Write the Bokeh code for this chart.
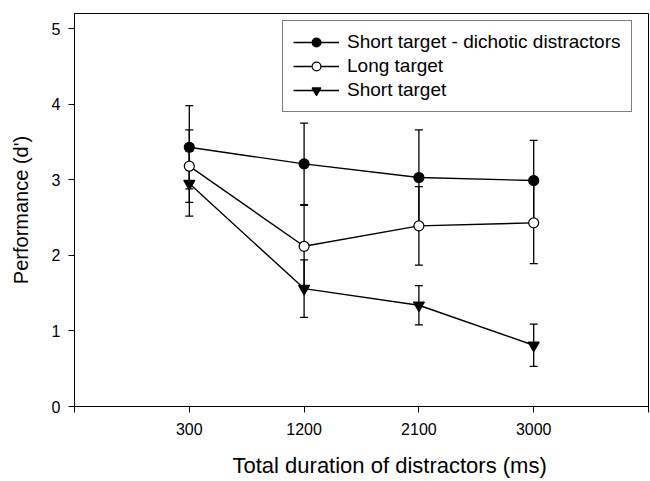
from bokeh.plotting import figure
from bokeh.models import (ColumnDataSource, Whisker, TeeHead, FixedTicker,
                          Legend, LegendItem, Range1d, Label)
from bokeh.embed import file_html
from bokeh.resources import INLINE

# Total duration of distractors (ms), plotted at evenly spaced positions
durations = ["300", "1200", "2100", "3000"]
positions = [1, 2, 3, 4]

# Performance (d') per condition with error bar half-widths
dichotic = [3.43, 3.21, 3.03, 2.99]
dichotic_err = [0.55, 0.54, 0.63, 0.53]

long_target = [3.18, 2.12, 2.39, 2.43]
long_err = [0.48, 0.54, 0.52, 0.54]

short_target = [2.95, 1.56, 1.34, 0.81]
short_err = [0.43, 0.38, 0.26, 0.28]

y_ticks = [0, 1, 2, 3, 4, 5]

FONT = "Liberation Sans"

p = figure(width=650, height=481, output_backend="svg", toolbar_location=None,
           x_range=Range1d(0, 5), y_range=Range1d(0, 5.2),
           min_border_left=74, min_border_right=2, min_border_top=13,
           min_border_bottom=75)
p.grid.visible = False
p.background_fill_color = "white"
p.border_fill_color = "white"
p.outline_line_color = "black"
p.outline_line_width = 1

# axes
p.xaxis.ticker = FixedTicker(ticks=[0, 1, 2, 3, 4, 5])
p.xaxis.major_label_overrides = {0: "", 5: "", **{pos: lab for pos, lab in zip(positions, durations)}}
p.yaxis.ticker = FixedTicker(ticks=y_ticks)
for ax in (p.xaxis[0], p.yaxis[0]):
    ax.axis_line_color = "black"
    ax.axis_line_width = 1
    ax.major_tick_line_color = "black"
    ax.major_tick_out = 6
    ax.major_tick_in = 0
    ax.minor_tick_line_color = None
    ax.major_label_text_font = FONT
    ax.major_label_text_font_size = "16px"
    ax.major_label_text_color = "black"
    ax.axis_label_text_font = FONT
    ax.axis_label_text_font_style = "normal"
    ax.axis_label_text_color = "black"
p.xaxis.major_label_standoff = 10
p.yaxis.major_label_standoff = 8
p.yaxis.axis_label = "Performance (d')"
p.yaxis.axis_label_text_font_size = "20px"
p.yaxis.axis_label_standoff = 17

# x axis title in its own panel under the axis, shifted right of centre
p.add_layout(Label(x=158, y=-3, x_units="screen", y_units="screen",
                   text="Total duration of distractors (ms)",
                   text_align="left", text_baseline="middle",
                   text_font=FONT, text_font_size="22px",
                   text_color="black"), "below")

series = [
    ("Short target - dichotic distractors", dichotic, dichotic_err, "circle", "black", 10),
    ("Long target", long_target, long_err, "circle", "white", 10),
    ("Short target", short_target, short_err, "inverted_triangle", "black", 11),
]

items = []
# error bars first so that lines and markers sit on top
for label, vals, errs, marker, fill, size in series:
    src = ColumnDataSource(dict(
        x=positions,
        lower=[v - e for v, e in zip(vals, errs)],
        upper=[v + e for v, e in zip(vals, errs)],
    ))
    w = Whisker(source=src, base="x", lower="lower", upper="upper",
                line_color="black", line_width=1.3,
                upper_head=TeeHead(size=8, line_color="black", line_width=1.3),
                lower_head=TeeHead(size=8, line_color="black", line_width=1.3))
    p.add_layout(w)

for label, vals, errs, marker, fill, size in series:
    src = ColumnDataSource(dict(x=positions, y=vals))
    lr = p.line("x", "y", source=src, line_color="black", line_width=1.4)
    mr = p.scatter("x", "y", source=src, marker=marker, size=size,
                   fill_color=fill, line_color="black", line_width=1.2)
    items.append(LegendItem(label=label, renderers=[lr, mr]))

legend = Legend(items=items, location=(208, 294))
legend.label_text_font = FONT
legend.label_text_font_size = "19px"
legend.label_text_color = "black"
legend.glyph_width = 46
legend.glyph_height = 22
legend.label_height = 22
legend.spacing = 2
legend.padding = 10
legend.margin = 0
legend.label_standoff = 8
legend.border_line_color = "black"
legend.border_line_width = 1
legend.background_fill_color = "white"
legend.background_fill_alpha = 1
p.add_layout(legend)

open("out.html", "w").write(file_html(p, INLINE))
